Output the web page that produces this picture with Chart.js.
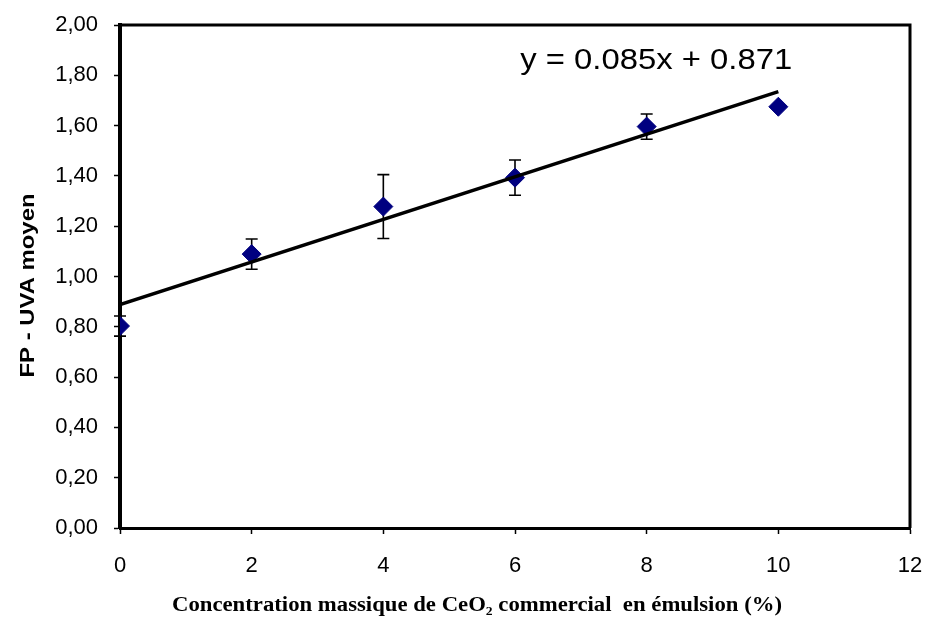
<!DOCTYPE html>
<html>
<head>
<meta charset="utf-8">
<script src="https://cdn.jsdelivr.net/npm/chart.js@4/dist/chart.umd.min.js"></script>
<style>
html,body{margin:0;padding:0;background:#fff;}
#wrap{width:927px;height:618px;position:relative;}
</style>
</head>
<body>
<div id="wrap"><canvas id="c" width="927" height="618"></canvas></div>
<script>
// ---- data ----
const concentrations = [0, 2, 4, 6, 8, 10];
const fpUvaMean = [0.803, 1.089, 1.278, 1.393, 1.596, 1.675];
const fpUvaError = [0.04, 0.06, 0.127, 0.07, 0.05, 0];
const trendX = [0, 10];
const trendY = [0.888, 1.735];
const xTicks = [0, 2, 4, 6, 8, 10, 12];
const yTicks = [0, 0.2, 0.4, 0.6, 0.8, 1.0, 1.2, 1.4, 1.6, 1.8, 2.0];
const equationText = 'y = 0.085x + 0.871';
const equationAt = {x: 6.08, y: 1.857};
const xTitle = 'Concentration massique de CeO\u2082 commercial  en émulsion (%)';
const yTitle = 'FP - UVA moyen';

const errorBars = {
  id: 'errorBars',
  beforeDatasetsDraw(chart) {
    const {ctx, scales: {x, y}} = chart;
    ctx.save();
    ctx.strokeStyle = '#000';
    ctx.lineWidth = 1.6;
    concentrations.forEach((c, i) => {
      const e = fpUvaError[i];
      if (!e) return;
      const px = x.getPixelForValue(c);
      const top = y.getPixelForValue(fpUvaMean[i] + e);
      const bot = y.getPixelForValue(fpUvaMean[i] - e);
      ctx.beginPath();
      ctx.moveTo(px, top); ctx.lineTo(px, bot);
      ctx.moveTo(px - 6, top); ctx.lineTo(px + 6, top);
      ctx.moveTo(px - 6, bot); ctx.lineTo(px + 6, bot);
      ctx.stroke();
    });
    ctx.restore();
  }
};

function fitText(ctx, text, cx, cy, width) {
  const w = ctx.measureText(text).width;
  ctx.save();
  ctx.translate(cx, cy);
  ctx.scale(width / w, 1);
  ctx.textAlign = 'center';
  ctx.textBaseline = 'middle';
  ctx.fillText(text, 0, 0);
  ctx.restore();
}

const decorations = {
  id: 'decorations',
  afterDraw(chart) {
    const {ctx, chartArea: a, scales: {x, y}} = chart;
    ctx.save();
    // top and right frame
    ctx.strokeStyle = '#000';
    ctx.lineWidth = 3;
    ctx.beginPath();
    ctx.moveTo(a.left, a.top); ctx.lineTo(a.right, a.top); ctx.lineTo(a.right, a.bottom);
    ctx.stroke();
    ctx.fillStyle = '#000';
    // equation
    ctx.font = '29px "Liberation Sans", Arial, sans-serif';
    const ex = x.getPixelForValue(equationAt.x);
    const ey = y.getPixelForValue(equationAt.y);
    fitText(ctx, equationText, ex + 136, ey, 272);
    // x title
    ctx.font = 'bold 20px "Liberation Serif", "Times New Roman", serif';
    fitText(ctx, xTitle, a.left + 357, a.bottom + 78, 610);
    // y title
    ctx.font = 'bold 21px "Liberation Sans", Arial, sans-serif';
    ctx.save();
    ctx.translate(28, (a.top + a.bottom) / 2 + 9);
    ctx.rotate(-Math.PI / 2);
    fitText(ctx, yTitle, 0, 0, 184);
    ctx.restore();
    ctx.restore();
  }
};

new Chart(document.getElementById('c'), {
  type: 'scatter',
  data: {
    datasets: [
      {
        label: 'trend',
        type: 'line',
        data: trendX.map((v, i) => ({x: v, y: trendY[i]})),
        borderColor: '#000',
        borderWidth: 3.5,
        pointRadius: 0,
        fill: false,
        order: 0
      },
      {
        label: 'FP-UVA',
        data: concentrations.map((v, i) => ({x: v, y: fpUvaMean[i]})),
        pointStyle: 'rectRot',
        pointRadius: 9.5,
        pointHoverRadius: 9.5,
        backgroundColor: '#000080',
        borderColor: '#000080',
        borderWidth: 1,
        order: 1
      }
    ]
  },
  options: {
    responsive: false,
    animation: false,
    layout: {padding: {left: 0, right: 17, top: 25, bottom: 0}},
    plugins: {legend: {display: false}, tooltip: {enabled: false}},
    scales: {
      x: {
        type: 'linear',
        min: 0, max: 12,
        afterBuildTicks(s) { s.ticks = xTicks.map(v => ({value: v})); },
        afterFit(s) { s.height = 90; s.paddingLeft = 0; s.paddingRight = 0; },
        ticks: {
          color: '#000',
          padding: 19,
          font: {family: '"Liberation Sans", Arial, sans-serif', size: 22},
          maxRotation: 0
        },
        grid: {display: true, drawOnChartArea: false, drawTicks: true, tickLength: 6, color: '#000', tickWidth: 1.5},
        border: {display: true, color: '#000', width: 3}
      },
      y: {
        type: 'linear',
        min: 0, max: 2,
        afterBuildTicks(s) { s.ticks = yTicks.map(v => ({value: v})); },
        afterFit(s) { s.width = 120; s.paddingTop = 0; s.paddingBottom = 0; },
        ticks: {
          color: '#000',
          padding: 16,
          font: {family: '"Liberation Sans", Arial, sans-serif', size: 22},
          callback: v => Number(v).toFixed(2).replace('.', ',')
        },
        grid: {display: true, drawOnChartArea: false, drawTicks: true, tickLength: 6, color: '#000', tickWidth: 1.5},
        border: {display: true, color: '#000', width: 4}
      }
    }
  },
  plugins: [errorBars, decorations]
});
</script>
</body>
</html>
